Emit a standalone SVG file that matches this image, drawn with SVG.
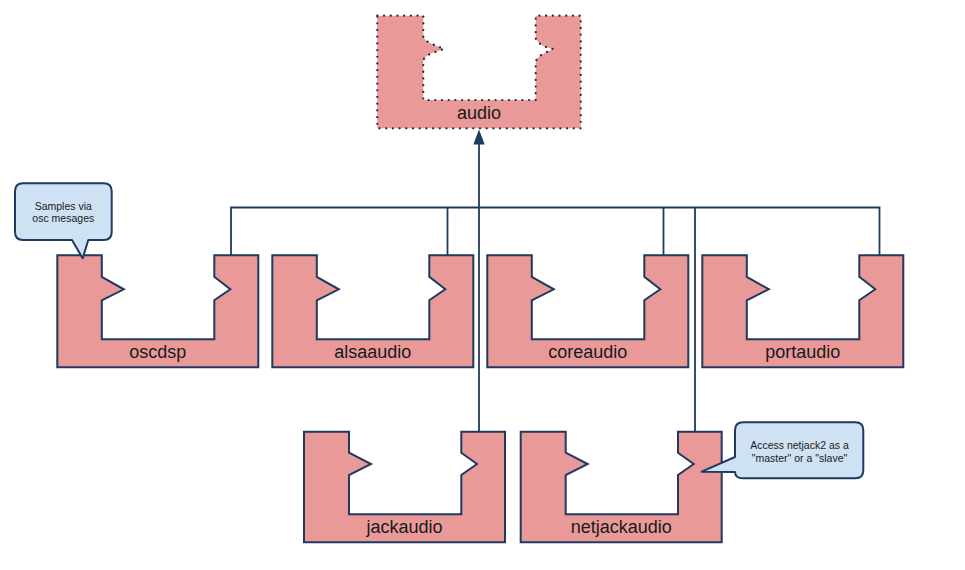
<svg xmlns="http://www.w3.org/2000/svg" width="965" height="570" viewBox="0 0 965 570">
  <style>
    .piece { fill: #EA9999; stroke: #1F3A60; stroke-width: 2; stroke-linejoin: miter; }
    .dotted { fill: #EA9999; stroke: #2a2a2a; stroke-width: 2.2; stroke-dasharray: 0.1 6.6; stroke-linecap: round; }
    .label { font-family: "Liberation Sans", Arial, sans-serif; font-size: 18px; fill: #1a1a1a; text-anchor: middle; }
    .note { fill: #CFE2F3; stroke: #1F3A60; stroke-width: 2; stroke-linejoin: round; }
    .notetext { font-family: "Liberation Sans", Arial, sans-serif; font-size: 10.5px; fill: #1a1a1a; text-anchor: middle; }
    .conn { fill: none; stroke: #1F3A60; stroke-width: 1.8; }
    .arrowhead { fill: #1F3A60; }
  </style>

  <g id="connectors">
    <path class="conn" d="M231,255.3 V207.5 H879.5 V255.3"/>
    <path class="conn" d="M447.5,207.5 V255.3"/>
    <path class="conn" d="M663.5,207.5 V255.3"/>
    <path class="conn" d="M695,207.5 V431.7"/>
    <path class="conn" d="M479,431.7 V144"/>
    <path class="arrowhead" d="M479,129.5 L473.3,144.5 L484.7,144.5 Z"/>
  </g>

  <g id="audio">
    <path class="dotted" d="M377.3,15.7 H423.3 V36.7 Q425,41 432,44 L444,49 L432,53 Q425,56 423.3,60 V100 H535.7 V61.7 Q537,57 543,54 L552.7,49 L543,46 Q537,42 535.7,38.3 V15.7 H580.7 V128.3 H377.3 Z"/>
    <text class="label" x="479" y="118.5">audio</text>
  </g>

  <g id="oscdsp" transform="translate(57.3,255.3)">
    <path class="piece" d="M0,0 H44.5 V21.5 L66.5,34 L44.5,45 V84 H157 V45 L173,34 L157,21.5 V0 H201 V112 H0 Z"/>
    <text class="label" x="100.5" y="102.5">oscdsp</text>
  </g>

  <g id="alsaaudio" transform="translate(272.3,255.3)">
    <path class="piece" d="M0,0 H44.5 V21.5 L66.5,34 L44.5,45 V84 H157 V45 L173,34 L157,21.5 V0 H201 V112 H0 Z"/>
    <text class="label" x="100.5" y="102.5">alsaaudio</text>
  </g>

  <g id="coreaudio" transform="translate(487.3,255.3)">
    <path class="piece" d="M0,0 H44.5 V21.5 L66.5,34 L44.5,45 V84 H157 V45 L173,34 L157,21.5 V0 H201 V112 H0 Z"/>
    <text class="label" x="100.5" y="102.5">coreaudio</text>
  </g>

  <g id="portaudio" transform="translate(702.3,255.3)">
    <path class="piece" d="M0,0 H44.5 V21.5 L66.5,34 L44.5,45 V84 H157 V45 L173,34 L157,21.5 V0 H201 V112 H0 Z"/>
    <text class="label" x="100.5" y="102.5">portaudio</text>
  </g>

  <g id="jackaudio" transform="translate(304,431.7)">
    <path class="piece" d="M0,0 H45 V21 L67,32.3 L45,43.3 V82.5 H157.3 V43.3 L173,32.3 L157.3,21 V0 H201 V110.6 H0 Z"/>
    <text class="label" x="100.5" y="101.5">jackaudio</text>
  </g>

  <g id="netjackaudio" transform="translate(520.7,431.7)">
    <path class="piece" d="M0,0 H45 V21 L67,32.3 L45,43.3 V82.5 H157.3 V43.3 L173,32.3 L157.3,21 V0 H201 V110.6 H0 Z"/>
    <text class="label" x="100.5" y="101.5">netjackaudio</text>
  </g>

  <g id="note-samples">
    <path class="note" d="M23,183.3 H103.7 Q111.7,183.3 111.7,191.3 V232 Q111.7,240 103.7,240 H88.3 L82.7,258.3 L72,240 H23 Q15,240 15,232 V191.3 Q15,183.3 23,183.3 Z"/>
    <text class="notetext" x="63.3" y="209.5">Samples via</text>
    <text class="notetext" x="63.3" y="222">osc mesages</text>
  </g>

  <g id="note-netjack">
    <path class="note" d="M743,422.3 H855.3 Q863.3,422.3 863.3,430.3 V470.3 Q863.3,478.3 855.3,478.3 H743 Q735,478.3 735,472 L701.7,471.7 L735,457 V430.3 Q735,422.3 743,422.3 Z"/>
    <text class="notetext" x="799.5" y="449">Access netjack2 as a</text>
    <text class="notetext" x="799.5" y="461.5">"master" or a "slave"</text>
  </g>
</svg>
